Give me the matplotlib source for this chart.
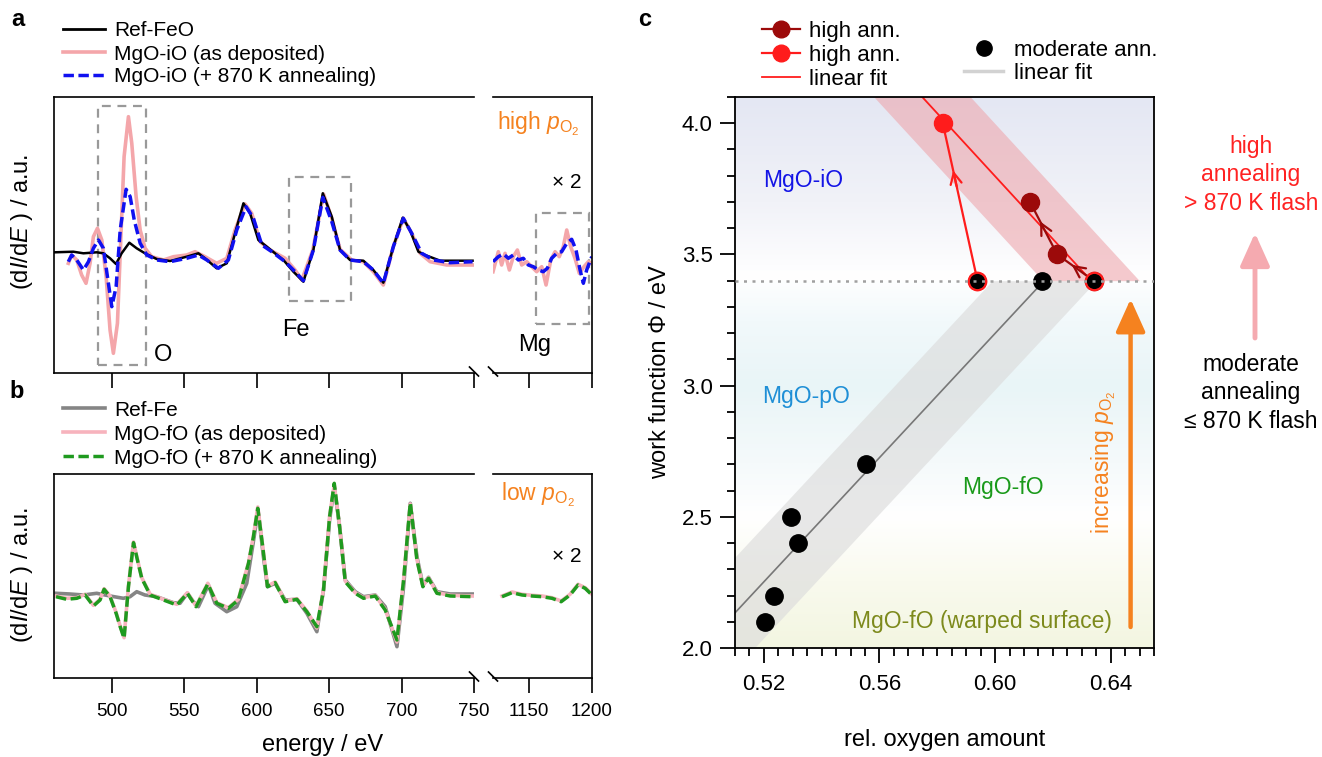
import matplotlib.pyplot as plt
import numpy as np
from matplotlib.colors import LinearSegmentedColormap
from matplotlib.lines import Line2D
from matplotlib.patches import Rectangle

plt.rcParams['font.family'] = ['Liberation Sans', 'DejaVu Sans']
plt.rcParams['mathtext.fontset'] = 'custom'
plt.rcParams['mathtext.rm'] = 'Liberation Sans'
plt.rcParams['mathtext.it'] = 'Liberation Sans:italic'

W, H = 1322, 757


def fx(px):
    return px / W


def fy(py):
    return 1 - py / H


# ---------------- panel a : MgO-iO, high pO2 (AES, dI/dE, a.u.) ----------------
ref_feo_e = [460.7, 473.3, 480.3, 489.5, 494.1, 498.7, 502.8, 506.7, 512.0, 517.1, 522.8, 530.9, 540.1,
             551.6, 559.7, 564.3, 572.3, 579.3, 585.0, 590.8, 595.4, 601.1, 609.2, 618.4, 625.3, 632.2,
             639.1, 645.6, 651.8, 657.5, 664.4, 673.6, 680.5, 687.4, 694.3, 700.8, 705.8, 711.6, 716.2,
             726.6, 749.0]
ref_feo_i = [9.7, 10.3, 8.7, 9.7, 8.7, 3.7, -2.0, 8.7, 19.3, 13.7, 8.7, 3.0, 1.0,
             5.3, 8.7, 3.7, -6.3, -1.3, 28.7, 58.7, 48.7, 22.0, 12.7, 2.0, -9.7, -19.7,
             12.0, 68.7, 45.3, 12.0, 2.0, 1.3, -8.0, -20.7, 15.3, 44.3, 32.0, 10.3, 7.0,
             1.3, 1.3]

io_dep_e = [469.9, 472.2, 475.7, 479.1, 482.1, 484.9, 487.2, 490.0, 493.0, 496.0, 498.7, 501.0, 503.8,
            506.1, 508.4, 511.4, 513.7, 516.7, 519.5, 522.9, 527.5, 535.6, 542.5, 551.6, 557.4, 564.3,
            572.3, 579.3, 585.0, 591.9, 596.5, 602.3, 609.2, 619.6, 626.5, 631.1, 638.7, 646.1, 651.8,
            657.5, 665.6, 673.6, 680.5, 687.4, 694.3, 701.2, 707.0, 712.8, 719.7, 731.2, 749.0]
io_dep_i = [-1.3, 7.0, 2.0, -13.0, -21.3, -1.3, 25.3, 33.7, 22.0, -14.7, -68.0, -91.3, -61.3,
            22.0, 105.3, 145.3, 118.7, 65.3, 32.0, 13.7, 5.3, 2.0, 5.3, 7.0, 10.3, 5.3,
            -1.3, 3.7, 32.0, 58.0, 48.7, 20.3, 12.0, 3.7, -8.0, -18.0, 12.0, 68.0, 43.7,
            12.7, 2.0, 0.3, -9.7, -23.0, 15.3, 43.7, 28.7, 8.7, 0.3, -3.0, -3.0]

io_ann_e = [469.9, 472.2, 475.7, 480.3, 483.8, 487.2, 490.7, 494.1, 496.9, 499.9, 502.9, 505.7, 509.8,
            512.6, 515.4, 519.5, 524.1, 531.0, 540.1, 551.6, 559.7, 565.5, 573.5, 580.4, 586.2, 592.6,
            597.7, 603.5, 610.4, 619.6, 626.5, 632.2, 639.1, 645.6, 651.8, 657.5, 664.4, 673.6, 680.5,
            687.4, 694.3, 701.2, 707.0, 713.9, 722.0, 733.5, 749.0]
io_ann_i = [0.3, 7.0, 2.0, -8.0, 0.3, 13.7, 22.0, 13.7, -14.7, -44.7, -24.7, 32.0, 72.7,
            65.3, 42.0, 18.7, 7.0, 2.0, 0.3, 3.7, 7.0, 2.0, -6.3, 2.0, 32.0, 55.3,
            43.7, 17.0, 10.3, 0.3, -9.7, -18.7, 12.0, 64.7, 40.3, 12.0, 2.0, 0.3, -8.0,
            -21.3, 15.3, 43.7, 28.7, 8.7, 2.0, -0.7, 0.3]

# Mg region (x 2)
io_dep_mg_e = [1122.0, 1126.2, 1128.8, 1131.5, 1134.9, 1138.0, 1141.2, 1144.6, 1148.6, 1152.5, 1156.4, 1160.4,
               1163.8, 1167.5, 1170.9, 1174.2, 1177.4, 1180.1, 1183.2, 1186.6, 1190.0, 1193.7, 1197.1, 1199.8]
io_dep_mg_i = [-9.7, 10.3, -3.0, 8.7, -8.0, 5.3, 12.0, -3.0, 0.3, -4.7, -9.7, -4.7,
               -23.0, 2.0, 10.3, 5.3, 15.3, 32.0, 15.3, 3.7, -11.3, -4.7, 0.3, -1.3]
io_ann_mg_e = [1122.0, 1126.2, 1130.2, 1134.1, 1138.0, 1142.0, 1145.9, 1149.8, 1153.8, 1157.7, 1161.6,
               1164.8, 1168.2, 1172.2, 1176.1, 1180.1, 1184.0, 1187.4, 1190.6, 1193.2, 1195.8, 1199.8]
io_ann_mg_i = [0.3, 5.3, 8.0, 3.7, 7.0, 2.0, 3.7, -3.0, -4.7, -8.0, -9.7,
               -6.3, 3.7, 8.7, 10.3, 18.7, 22.7, 12.0, -8.0, -21.3, -8.0, 5.3]

# ---------------- panel b : MgO-fO, low pO2 ----------------
ref_fe_e = [461.4, 471.0, 480.3, 489.5, 498.7, 507.9, 512.5, 517.1, 522.8, 530.9, 542.4, 547.0, 552.1,
            556.2, 559.7, 566.6, 571.2, 579.3, 586.2, 593.1, 598.2, 600.9, 604.6, 607.4, 612.7, 619.6,
            627.7, 634.6, 641.5, 646.1, 650.3, 653.5, 657.2, 661.1, 668.0, 673.7, 681.8, 688.7, 696.8,
            701.4, 706.0, 710.6, 714.7, 718.6, 724.4, 733.6, 749.0]
ref_fe_i = [1.7, 1.0, 0.0, 1.7, -1.0, -3.3, -1.7, 3.3, 0.0, -1.7, -7.7, -8.3, 1.7,
            -6.7, -11.7, 10.0, -8.3, -16.7, -11.7, 11.7, 58.3, 85.0, 38.3, 8.3, 11.7, -5.0,
            -4.3, -18.3, -36.7, 5.0, 75.0, 108.3, 68.3, 15.0, 3.3, -1.7, 0.0, -11.7, -51.7,
            8.3, 91.7, 38.3, 10.0, 17.7, 3.3, 1.0, 1.0]

fo_e = [461.4, 468.7, 475.7, 481.5, 487.2, 491.8, 494.6, 498.7, 502.9, 505.7, 508.4, 511.4, 514.9,
        517.6, 520.6, 526.4, 535.6, 544.8, 552.1, 558.1, 566.2, 572.4, 580.4, 587.3, 594.3, 597.7,
        600.7, 604.1, 607.4, 612.7, 619.6, 627.7, 634.6, 641.5, 646.1, 650.3, 653.5, 657.2, 661.1,
        668.0, 673.7, 681.8, 688.7, 696.8, 701.4, 706.0, 710.6, 714.7, 718.6, 724.4, 733.6, 749.0]
fo_ann_i = [-1.7, -4.3, -3.3, 0.0, -11.0, -5.0, 5.7, -1.7, -18.3, -31.7, -43.3, 8.3, 52.3,
            35.0, 16.7, 0.0, -5.0, -10.0, 1.7, -11.7, 11.0, -8.3, -13.3, -5.0, 31.7, 58.3,
            86.7, 48.3, 8.3, 12.3, -6.7, -4.3, -16.7, -31.7, 5.0, 78.3, 111.7, 68.3, 13.3,
            1.7, -3.3, -1.0, -15.0, -45.0, 15.0, 92.3, 35.0, 8.3, 16.7, 1.7, -1.0, -1.7]
fo_dep_i = [-1.0, -3.3, -2.7, 0.7, -10.3, -4.3, 6.3, -1.0, -17.7, -31.0, -42.7, 9.0, 53.0,
            35.7, 17.3, 0.7, -4.3, -9.3, 2.3, -11.0, 11.7, -7.7, -12.7, -4.3, 32.3, 59.0,
            88.0, 49.0, 9.0, 13.0, -6.0, -3.7, -16.0, -33.0, 5.7, 79.0, 110.0, 69.0, 14.0,
            2.3, -2.7, -0.3, -14.3, -47.0, 15.7, 91.0, 35.7, 9.0, 17.3, 2.3, -0.3, -1.0]

fo_mg_e = [1129.1, 1137.0, 1144.9, 1152.7, 1160.6, 1168.5, 1175.7, 1182.7, 1189.0, 1194.6, 1200.0]
fo_ann_mg_i = [-1.7, 2.3, 0.0, -1.0, -1.7, -3.3, -6.7, 0.0, 10.0, 6.7, 0.0]
fo_dep_mg_i = [-1.0, 3.0, 0.7, -0.3, -1.0, -2.7, -6.0, 0.7, 10.7, 7.3, 0.7]

# ---------------- panel c : work function vs rel. oxygen amount ----------------
mod_x = [0.5205, 0.5236, 0.5293, 0.5318, 0.5554, 0.6162]
mod_y = [2.1, 2.2, 2.5, 2.4, 2.7, 3.4]
high1_x = [0.6341, 0.6215, 0.6121]
high1_y = [3.4, 3.5, 3.7]
high2_x = [0.5939, 0.5819]
high2_y = [3.4, 4.0]
mod_fit_x = [0.510, 0.617]
mod_fit_y = [2.134, 3.400]
high_fit_x = [0.5748, 0.6324]
high_fit_y = [4.10, 3.41]

PINK = '#f4a6aa'
BLUE = '#1010f0'
GREEN = '#1f9a1f'
ORANGE = '#f5821f'
DARKRED = '#9c0a0a'
RED = '#ff1c1c'

fig = plt.figure(figsize=(W / 100, H / 100), dpi=100)


def spec_axes(x0, x1, y0, y1, xlim, ylim, ticks, left, labels):
    ax = fig.add_axes([fx(x0), fy(y1), (x1 - x0) / W, (y1 - y0) / H])
    ax.set_xlim(xlim)
    ax.set_ylim(ylim)
    ax.set_xticks(ticks)
    ax.set_yticks([])
    ax.tick_params(axis='x', direction='out', length=11, width=1.2, labelsize=13.5, pad=7,
                   labelbottom=labels)
    for s in ax.spines.values():
        s.set_linewidth(1.2)
    ax.spines['right' if left else 'left'].set_visible(False)
    return ax


def break_marks(ybot):
    for xm in (474, 493):
        fig.add_artist(Line2D([fx(xm - 4.5), fx(xm + 4.5)], [fy(ybot - 5), fy(ybot + 4)],
                              color='black', lw=1.2))


def legend_row(x0, x1, y, label, fs, mark=None, tx=None, **kw):
    fig.add_artist(Line2D([fx(x0), fx(x1)], [fy(y), fy(y)], **kw))
    if mark is not None:
        fig.add_artist(Line2D([fx((x0 + x1) / 2)], [fy(y)], ls='none', **mark))
    fig.text(fx(tx if tx else x1 + 9), fy(y), label, fontsize=fs, va='center_baseline', ha='left')


dash = (0, (3.0, 1.3))

# ---- panel a ----
ya = (-111, 165)
axa1 = spec_axes(54, 474, 97, 373, (460, 750), ya, [500, 550, 600, 650, 700, 750], True, False)
axa2 = spec_axes(493, 592, 97, 373, (1122, 1200), ya, [1150, 1200], False, False)
axa1.plot(io_dep_e, io_dep_i, color=PINK, lw=2.6)
axa1.plot(ref_feo_e, ref_feo_i, color='black', lw=1.8)
axa1.plot(io_ann_e, io_ann_i, color=BLUE, lw=2.5, ls=dash)
axa2.plot(io_dep_mg_e, io_dep_mg_i, color=PINK, lw=2.6)
axa2.plot(io_ann_mg_e, io_ann_mg_i, color=BLUE, lw=2.5, ls=dash)
box = dict(fill=False, ec='#999999', lw=1.6, ls=(0, (4, 3)))
axa1.add_patch(Rectangle((490.4, -103), 33.1, 259, **box))
axa1.add_patch(Rectangle((622.5, -38.7), 42.4, 123.4, **box))
axa2.add_patch(Rectangle((1155.9, -62), 42.0, 111.3, clip_on=False, **box))
axa1.text(535, -93, 'O', fontsize=17, ha='center', va='center')
axa1.text(627, -68, 'Fe', fontsize=17, ha='center', va='center')
axa2.text(1155, -83, 'Mg', fontsize=17, ha='center', va='center')
axa2.text(1158, 138, r'high $p_{\mathrm{O}_2}$', fontsize=16.5, color=ORANGE, ha='center', va='center')
axa2.text(1180, 79, '× 2', fontsize=15, ha='center', va='center')
break_marks(372)
fig.text(fx(22), fy(222), r'(d$I$/d$E$ ) / a.u.', rotation=90, fontsize=17, ha='center', va='center')
fig.text(fx(18), fy(20), 'a', fontsize=17, fontweight='bold', ha='center', va='center')
legend_row(63, 105, 29, 'Ref-FeO', 15, color='black', lw=2)
legend_row(63, 105, 52, 'MgO-iO (as deposited)', 15, color=PINK, lw=2.6)
legend_row(63, 105, 75, 'MgO-iO (+ 870 K annealing)', 15, color=BLUE, lw=2.5, ls=dash)

# ---- panel b ----
yb = (-83, 121)
axb1 = spec_axes(54, 474, 474, 678, (460, 750), yb, [500, 550, 600, 650, 700, 750], True, True)
axb2 = spec_axes(493, 592, 474, 678, (1122, 1200), yb, [1150, 1200], False, True)
axb1.plot(ref_fe_e, ref_fe_i, color='#858585', lw=2.6)
axb1.plot(fo_e, fo_dep_i, color='#f7b3bd', lw=2.6)
axb1.plot(fo_e, fo_ann_i, color=GREEN, lw=2.5, ls=dash)
axb2.plot(fo_mg_e, fo_dep_mg_i, color='#f7b3bd', lw=2.6)
axb2.plot(fo_mg_e, fo_ann_mg_i, color=GREEN, lw=2.5, ls=dash)
axb2.text(1157, 100, r'low $p_{\mathrm{O}_2}$', fontsize=16.5, color=ORANGE, ha='center', va='center')
axb2.text(1180, 38, '× 2', fontsize=15, ha='center', va='center')
break_marks(677)
fig.text(fx(22), fy(575), r'(d$I$/d$E$ ) / a.u.', rotation=90, fontsize=17, ha='center', va='center')
fig.text(fx(323), fy(745), 'energy / eV', fontsize=17, ha='center', va='center')
fig.text(fx(17), fy(392), 'b', fontsize=17, fontweight='bold', ha='center', va='center')
legend_row(63, 105, 408, 'Ref-Fe', 15, color='#858585', lw=2.6)
legend_row(63, 105, 432, 'MgO-fO (as deposited)', 15, color='#f7b3bd', lw=2.6)
legend_row(63, 105, 456, 'MgO-fO (+ 870 K annealing)', 15, color=GREEN, lw=2.5, ls=dash)

# ---- panel c ----
axc = fig.add_axes([fx(735), fy(648), 419 / W, 551 / H])
xl, yl = (0.51, 0.655), (2.0, 4.1)
stops = [(2.0, (243, 246, 225)), (2.25, (249, 250, 238)), (2.5, (255, 255, 255)),
         (2.7, (245, 250, 251)), (3.0, (233, 245, 247)), (3.25, (242, 249, 251)),
         (3.42, (255, 255, 255)), (3.7, (241, 242, 248)), (4.1, (228, 231, 243))]
bg = LinearSegmentedColormap.from_list(
    'bg', [((y - yl[0]) / (yl[1] - yl[0]), tuple(c / 255 for c in rgb)) for y, rgb in stops])
axc.imshow(np.linspace(0, 1, 512).reshape(-1, 1), cmap=bg, origin='lower',
           extent=[xl[0], xl[1], yl[0], yl[1]], aspect='auto', zorder=0, interpolation='bilinear')

xs = np.linspace(0.50, 0.66, 800)
k_m = (mod_fit_y[1] - mod_fit_y[0]) / (mod_fit_x[1] - mod_fit_x[0])
line_m = mod_fit_y[0] + k_m * (xs - mod_fit_x[0])
axc.fill_between(xs, np.minimum(line_m - 0.213, 3.4), np.minimum(line_m + 0.213, 3.4),
                 color='#dcdcdc', alpha=0.65, lw=0, zorder=1)
k_h = (high_fit_y[1] - high_fit_y[0]) / (high_fit_x[1] - high_fit_x[0])
line_h = high_fit_y[0] + k_h * (xs - high_fit_x[0])
axc.fill_between(xs, np.maximum(line_h - 0.2, 3.4), np.maximum(line_h + 0.2, 3.4),
                 color='#eea7ad', alpha=0.6, lw=0, zorder=1)
axc.plot(mod_fit_x, mod_fit_y, color='#777777', lw=1.2, zorder=2)
axc.plot(high_fit_x, high_fit_y, color=RED, lw=1.3, zorder=2)

axc.plot(high1_x, high1_y, color=DARKRED, lw=1.6, marker='o', ms=13, zorder=4)
axc.plot(high2_x, high2_y, color=RED, lw=1.6, marker='o', ms=13, zorder=4)
axc.plot(mod_x, mod_y, ls='none', marker='o', ms=12.5, color='black', zorder=5)
axc.plot([high1_x[0], high2_x[0]], [high1_y[0], high2_y[0]], ls='none', marker='o', ms=12.5,
         mfc='black', mec=RED, mew=1.6, zorder=5)


def chevron(xx, yy, f, color):
    tip = (xx[0] + f * (xx[1] - xx[0]), yy[0] + f * (yy[1] - yy[0]))
    tail = (xx[0] + (f - 0.1) * (xx[1] - xx[0]), yy[0] + (f - 0.1) * (yy[1] - yy[0]))
    axc.annotate('', xy=tip, xytext=tail, zorder=4,
                 arrowprops=dict(arrowstyle='->,head_length=0.8,head_width=0.4', color=color, lw=1.6,
                                 shrinkA=0, shrinkB=0))


chevron(high2_x, high2_y, 0.7, RED)
chevron(high1_x[:2], high1_y[:2], 0.6, DARKRED)
chevron(high1_x[1:], high1_y[1:], 0.63, DARKRED)

axc.axhline(3.4, color='#a0a0a0', ls=(0, (1.2, 2.2)), lw=1.8, zorder=6)

axc.annotate('', xy=(0.6469, 3.33), xytext=(0.6469, 2.08), zorder=3,
             arrowprops=dict(arrowstyle='-|>,head_length=1.0,head_width=0.45', mutation_scale=20,
                             color=ORANGE, lw=3.2, shrinkA=0, shrinkB=0))
axc.text(0.6376, 2.71, r'increasing $p_{\mathrm{O}_2}$', rotation=90, color=ORANGE, fontsize=16.5,
         ha='center', va='center')
axc.text(0.5197, 3.78, 'MgO-iO', color='#1414e6', fontsize=16.5, ha='left', va='center')
axc.text(0.5195, 2.96, 'MgO-pO', color='#1f8fd6', fontsize=16.5, ha='left', va='center')
axc.text(0.6026, 2.61, 'MgO-fO', color='#1a9a1a', fontsize=16.5, ha='center', va='center')
axc.text(0.5953, 2.10, 'MgO-fO (warped surface)', color='#7d8a1c', fontsize=16.5, ha='center', va='center')

axc.set_xlim(xl)
axc.set_ylim(yl)
axc.set_xticks([0.52, 0.56, 0.60, 0.64])
axc.set_xticklabels(['0.52', '0.56', '0.60', '0.64'])
axc.set_xticks(np.arange(0.51, 0.6551, 0.005), minor=True)
axc.set_yticks([2.0, 2.5, 3.0, 3.5, 4.0])
axc.set_yticks(np.arange(2.0, 4.101, 0.1), minor=True)
axc.tick_params(which='major', direction='out', length=11, width=1.3, labelsize=16, pad=5)
axc.tick_params(which='minor', direction='out', length=5.5, width=1.3)
axc.tick_params(axis='x', which='major', pad=8)
for s in axc.spines.values():
    s.set_linewidth(1.3)
axc.set_xlabel('rel. oxygen amount', fontsize=17, labelpad=24)
axc.set_ylabel('work function Φ / eV', fontsize=17, labelpad=8)

fig.text(fx(645), fy(20), 'c', fontsize=17, fontweight='bold', ha='center', va='center')
legend_row(762, 800, 29, 'high ann.', 16, mark=dict(marker='o', ms=12, color=DARKRED),
           color=DARKRED, lw=1.6)
legend_row(762, 800, 53, 'high ann.', 16, mark=dict(marker='o', ms=12, color=RED), color=RED, lw=1.6)
legend_row(762, 800, 77, 'linear fit', 16, color=RED, lw=1.3)
fig.add_artist(Line2D([fx(984)], [fy(48)], ls='none', marker='o', ms=11, color='black'))
fig.text(fx(1014), fy(48), 'moderate ann.', fontsize=16, va='center_baseline', ha='left')
legend_row(964, 1003, 71, 'linear fit', 16, tx=1014, color='#d2d2d2', lw=2.5)

fig.text(fx(1251), fy(175), 'high\nannealing\n> 870 K flash', color='#ff2222', fontsize=16.5,
         ha='center', va='center', linespacing=1.32)
fig.text(fx(1251), fy(393), 'moderate\nannealing\n≤ 870 K flash', color='black', fontsize=16.5,
         ha='center', va='center', linespacing=1.32)
axc.annotate('', xy=(1255, H - 233), xytext=(1255, H - 338), xycoords='figure pixels',
             textcoords='figure pixels', annotation_clip=False,
             arrowprops=dict(arrowstyle='-|>,head_length=1.0,head_width=0.45', mutation_scale=20,
                             color='#f5aab0', lw=3.5, shrinkA=0, shrinkB=0))

fig.savefig('out.png', dpi=100)
